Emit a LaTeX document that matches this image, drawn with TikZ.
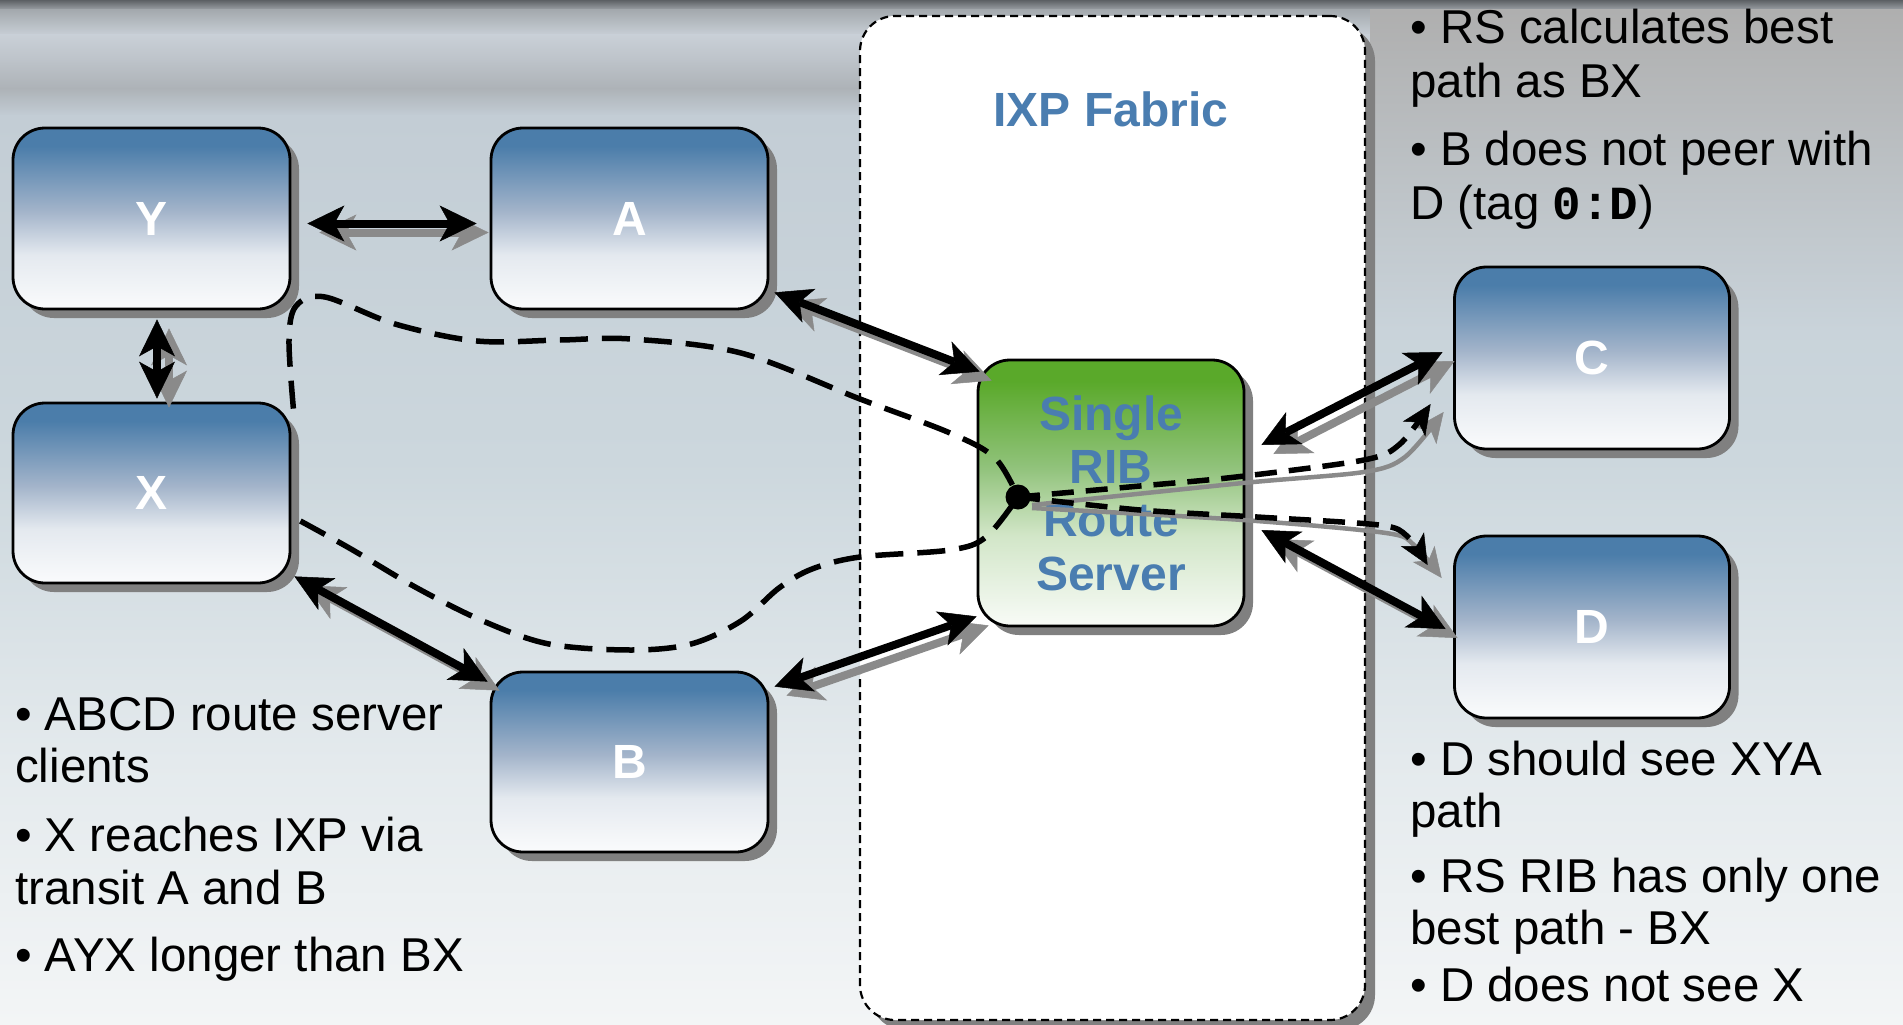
\documentclass[tikz,border=0pt]{standalone}
\usepackage{fontspec}
\setmainfont{Liberation Sans}
\setmonofont{Liberation Mono}
\usetikzlibrary{arrows.meta,shadows,calc}
\definecolor{boxtop}{HTML}{4B7DAA}
\definecolor{boxmid}{HTML}{A3B4CA}
\definecolor{boxlow}{HTML}{E4E9EF}
\definecolor{boxbot}{HTML}{FAFBFC}
\definecolor{rstop}{HTML}{5AA92A}
\definecolor{rsmid}{HTML}{90C27A}
\definecolor{rslow}{HTML}{D2E6C8}
\definecolor{rsbot}{HTML}{F8FBF7}
\definecolor{titleblue}{HTML}{4A7DB0}
\definecolor{shadowgray}{HTML}{808080}
\definecolor{arrowgray}{HTML}{8A8A8A}
\definecolor{rtop}{HTML}{AFAFAF}
\definecolor{rmid}{HTML}{B6B8BA}
\definecolor{rbot}{HTML}{C9D3DA}
\pgfdeclareverticalshading{boxshade}{100bp}{color(0bp)=(boxbot); color(25bp)=(boxbot); color(40bp)=(boxlow); color(52bp)=(boxmid); color(70bp)=(boxtop); color(100bp)=(boxtop)}
\pgfdeclareverticalshading{rsshade}{100bp}{color(0bp)=(rsbot); color(25bp)=(rsbot); color(42bp)=(rslow); color(55bp)=(rsmid); color(71bp)=(rstop); color(100bp)=(rstop)}
\newcommand\bgband[4]{\definecolor{bgA}{HTML}{#3}\definecolor{bgB}{HTML}{#4}\fill[top color=bgA, bottom color=bgB, draw=none] (0,#1) rectangle (1903,#2);}
\begin{document}
\begin{tikzpicture}[x=1pt,y=-1pt,
  nbox/.style={draw=black, line width=2.8pt, rounded corners=32pt, minimum width=277pt, minimum height=181pt, inner sep=0pt, shading=boxshade, drop shadow={shadow xshift=9pt, shadow yshift=-9pt, fill=shadowgray, opacity=1}, text=white, font=\fontsize{48}{48}\selectfont\bfseries},
  rsbox/.style={nbox, shading=rsshade, minimum width=266pt, minimum height=266pt, text=titleblue, align=center, font=\fontsize{48}{53.3}\selectfont\bfseries},
  ixpbox/.style={draw=black, line width=2.2pt, dash pattern=on 8pt off 5pt, fill=white, rounded corners=35pt, minimum width=505pt, minimum height=1004pt, inner sep=0pt, drop shadow={shadow xshift=10pt, shadow yshift=-10pt, fill=shadowgray, opacity=1}},
  bul/.style={anchor=base west, inner sep=0pt, text=black, font=\fontsize{47.5}{52}\selectfont},
  title/.style={anchor=base, inner sep=0pt, text=titleblue, font=\fontsize{48}{48}\selectfont\bfseries},
  twoway/.style={line width=8pt, draw=black, {Stealth[length=37pt,width=36pt,inset=10pt,line width=0.5pt]}-{Stealth[length=37pt,width=36pt,inset=10pt,line width=0.5pt]}},
  twowayshadow/.style={twoway, draw=arrowgray, fill=arrowgray},
  dashpath/.style={line width=5.5pt, draw=black, dash pattern=on 28pt off 14pt},
  dasharrow/.style={line width=5.5pt, draw=black, dash pattern=on 22pt off 12pt, -{Stealth[length=30pt,width=27pt,inset=8pt,line width=0.5pt]}},
  grayarrow/.style={line width=4.5pt, draw=arrowgray, -{Stealth[length=30pt,width=27pt,inset=8pt,line width=0.5pt]}},
  dotstyle/.style={circle, fill=black, minimum size=25pt, inner sep=0pt}
]
\useasboundingbox (0,0) rectangle (1903,1025);
% background
\bgband{0}{11}{5C6064}{A4A9AE}
\bgband{10}{36}{A4A9AE}{C9D0D7}
\bgband{35}{63}{C9D0D7}{BCC2C8}
\bgband{62}{89}{BCC2C8}{ADB2B7}
\bgband{88}{116}{ADB2B7}{C3CDD5}
\bgband{115}{461}{C3CDD5}{CCD7DD}
\bgband{460}{761}{CCD7DD}{E4EAED}
\bgband{760}{1025}{E4EAED}{F3F5F6}
\fill[top color=rtop, middle color=rmid, bottom color=rbot] (1370,10) rectangle (1903,330);

% IXP fabric
\node[ixpbox] (ixp) at (1112.5,518) {};
\node[title] (ixptitle) at (1111,126) {IXP Fabric};

% boxes
\node[nbox] (Y) at (151.5,218.5) {Y};
\node[nbox] (A) at (629.5,218.5) {A};
\node[nbox, minimum height=180pt] (X) at (151.5,493) {X};
\node[nbox, minimum height=180pt] (B) at (629.5,762) {B};
\node[nbox, minimum width=275pt, minimum height=182pt] (C) at (1592,358) {C};
\node[nbox, minimum width=275pt, minimum height=182pt] (D) at (1592,627) {D};
\node[rsbox] (RS) at (1111,493) {Single\\RIB\\Route\\Server};

% texts
\node[bul] (t1) at (1410,44) {• RS calculates best};
\node[bul] (t2) at (1410,97) {path as BX};
\node[bul] (t3) at (1410,165) {• B does not peer with};
\node[bul] (t4) at (1410,219) {D (tag \texttt{\bfseries 0:D})};
\node[bul] (t5) at (1410,775) {• D should see XYA};
\node[bul] (t6) at (1410,827) {path};
\node[bul] (t7) at (1410,892) {• RS RIB has only one};
\node[bul] (t8) at (1410,944) {best path - BX};
\node[bul] (t9) at (1410,1001) {• D does not see X};
\node[bul] (l1) at (15,730) {• ABCD route server};
\node[bul] (l2) at (15,782) {clients};
\node[bul] (l3) at (15,851) {• X reaches IXP via};
\node[bul] (l4) at (15,904) {transit A and B};
\node[bul] (l5) at (15,971) {• AYX longer than BX};

% connector end points
\coordinate (ya1) at ($(Y.east)+(16,5)$);
\coordinate (ya2) at ($(A.west)+(-13,5)$);
\coordinate (yx1) at ($(Y.south)+(5.5,9)$);
\coordinate (yx2) at ($(X.north)+(5.5,-3)$);
\coordinate (ar1) at ($(A.south east)+(5,-18)$);
\coordinate (ar2) at ($(RS.north west)+(3,13)$);
\coordinate (xb1) at ($(X.south east)+(3,-8)$);
\coordinate (xb2) at ($(B.north west)+(-2,11)$);
\coordinate (br1) at ($(B.north east)+(5,16)$);
\coordinate (br2) at ($(RS.south west)+(0,-11)$);
\coordinate (rc1) at ($(RS.east)+(16,-48)$);
\coordinate (rc2) at ($(C.west)+(-10.5,-6)$);
\coordinate (rd1) at ($(RS.east)+(16,37)$);
\coordinate (rd2) at ($(D.west)+(-7.5,2)$);
\coordinate (dotc) at (1018,497);
\coordinate (p1s) at ($(X.north east)+(2,7)$);
\coordinate (p2s) at ($(X.east)+(9,28)$);
\coordinate (dc) at ($(C.west)+(-22.5,46)$);
\coordinate (gc) at ($(C.west)+(-9.5,54)$);
\coordinate (dd) at ($(D.west)+(-25.5,-62)$);
\coordinate (gd) at ($(D.west)+(-11.5,-49)$);

% two-way links with shadows
\foreach \a/\b in {ya1/ya2, yx1/yx2, ar1/ar2, xb1/xb2, br1/br2, rc1/rc2, rd1/rd2}{
  \draw[twowayshadow] ([shift={(12,9)}]\a) -- ([shift={(12,9)}]\b);
  \draw[twoway] (\a) -- (\b);
}

% dashed paths X-Y-A and X-B to route server
\draw[dashpath] plot[smooth, tension=0.55] coordinates {(p1s) (289,340) (296,306) (325,297) (395,324) (477,341) (560,340) (631,339) (741,353) (860,399) (950,433) (995,458) (dotc)};
\draw[dashpath] plot[smooth, tension=0.55] coordinates {(p2s) (351,549) (417,588) (483,621) (549,644) (631,650) (691,644) (741,621) (779,588) (812,569) (860,557) (950,550) (986,537) (dotc)};

% announcements to C and D
\draw[grayarrow] plot[smooth, tension=0.5] coordinates {(1032,505) (1243,483) (1364,472) (1405,457) (gc)};
\draw[grayarrow] plot[smooth, tension=0.5] coordinates {(1032,508) (1243,520) (1386,533) (1414,545) (gd)};
\draw[dasharrow] plot[smooth, tension=0.5] coordinates {(dotc) (1140,486) (1236,477) (1364,460) (1400,444) (dc)};
\draw[dasharrow] plot[smooth, tension=0.5] coordinates {(dotc) (1140,510) (1257,517) (1379,525) (1407,536) (dd)};

\node[dotstyle] (dot) at (dotc) {};
\end{tikzpicture}
\end{document}
